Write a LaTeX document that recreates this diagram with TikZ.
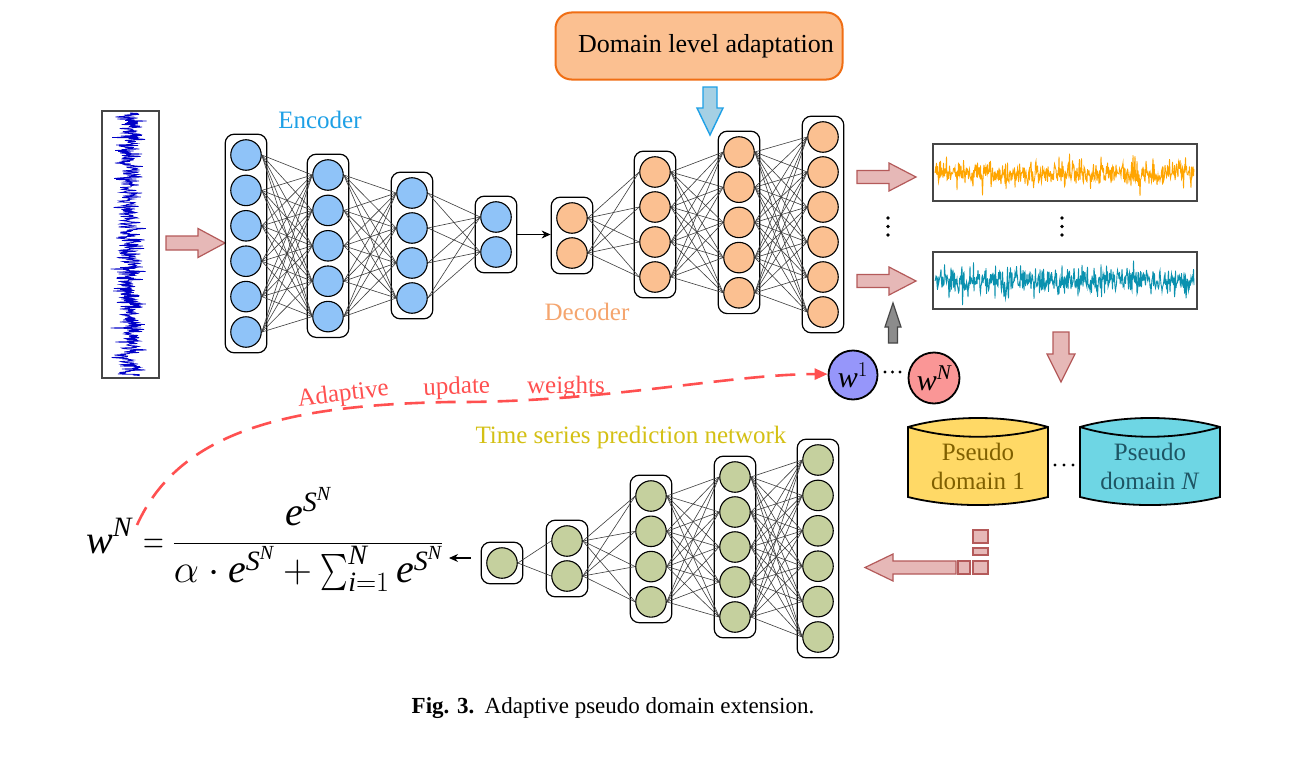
\RequirePackage{fix-cm}
\documentclass[tikz,border=0pt]{standalone}
\usepackage{exscale}
\usepackage{amstext}
\usepackage{fontspec}
\setmainfont{Liberation Serif}
\usetikzlibrary{arrows.meta,fit,calc}
\newcommand{\ti}[1]{\textit{#1}}
\newcommand{\bigsumop}{\mathop{\vcenter{\hbox{\scalebox{1.05}[1.45]{$\textstyle\sum$}}}}\nolimits}
\newcommand{\narroweq}{\mathrel{\scalebox{0.72}[1]{$=$}}}
\definecolor{nblue}{RGB}{143,195,248}
\definecolor{norange}{RGB}{251,192,145}
\definecolor{ngreen}{RGB}{197,208,158}
\definecolor{linkgray}{RGB}{60,60,60}
\definecolor{pinkfill}{RGB}{230,184,183}
\definecolor{pinkline}{RGB}{180,90,90}
\definecolor{peach}{RGB}{251,192,145}
\definecolor{orangeline}{RGB}{240,110,20}
\definecolor{encblue}{RGB}{30,160,230}
\definecolor{decorange}{RGB}{245,165,110}
\definecolor{tsyellow}{RGB}{212,192,20}
\definecolor{adred}{RGB}{255,80,80}
\definecolor{wblue}{RGB}{150,150,250}
\definecolor{wred}{RGB}{250,150,150}
\definecolor{pdfillA}{RGB}{255,217,102}
\definecolor{pdtextA}{RGB}{128,96,0}
\definecolor{pdfillN}{RGB}{110,214,228}
\definecolor{pdtextN}{RGB}{30,85,100}
\definecolor{sigblue}{RGB}{0,0,200}
\definecolor{sigorange}{RGB}{255,165,0}
\definecolor{sigteal}{RGB}{10,145,175}
\definecolor{boxgray}{RGB}{70,70,70}
\definecolor{lblue}{RGB}{165,208,228}
\definecolor{grayarrow}{RGB}{140,140,140}
\begin{document}
\begin{tikzpicture}[x=1pt,y=-1pt,
  neuron/.style={circle,draw=black,line width=1.1pt,minimum size=30.5pt,inner sep=0pt},
  enc/.style={neuron,fill=nblue},
  dec/.style={neuron,fill=norange},
  prd/.style={neuron,fill=ngreen},
  layerbox/.style={draw=black,line width=1.2pt,rounded corners=9pt,inner sep=5pt},
  link/.style={draw=linkgray,line width=0.6pt},
  blockarrow/.style={fill=pinkfill,draw=pinkline,line width=1.2pt},
  sigbox/.style={draw=boxgray,line width=1.5pt,inner sep=0pt},
  blk/.style={draw=black,line width=1.1pt,-{Stealth[length=9pt,width=8pt]}},
  wcirc/.style={circle,draw=black,line width=1.8pt,inner sep=0pt,font=\fontsize{30}{34}\selectfont},
  lbl/.style={font=\fontsize{25}{30}\selectfont},
  cyl/.style={draw=black,line width=1.8pt}
]
\useasboundingbox (0,0) rectangle (1298,768);
\fill[white] (0,0) rectangle (1298,768);
\pgfmathsetseed{7}

% ---------- input signal ----------
\node[sigbox,minimum width=57pt,minimum height=267pt] (insig) at (130.5,244.5) {};
\draw[sigblue,line width=0.8pt] (130,113) \foreach \i in {1,...,526}{ -- ({130+7*(rand+rand+rand)+10*rand*rand*rand},{113+\i*0.5}) };

\filldraw[blockarrow] (166,236) -- (198,236) -- (198,228.5) -- (225,243) -- (198,257.5) -- (198,250) -- (166,250) -- cycle;

% ---------- encoder ----------
\foreach \j in {1,...,6} \node[enc] (e1-\j) at (246,{155+35.4*(\j-1)}) {};
\foreach \j in {1,...,5} \node[enc] (e2-\j) at (328,{175+35.4*(\j-1)}) {};
\foreach \j in {1,...,4} \node[enc] (e3-\j) at (412,{193+35*(\j-1)}) {};
\foreach \j in {1,...,2} \node[enc] (e4-\j) at (496,{217+35*(\j-1)}) {};
\node[layerbox,fit=(e1-1)(e1-6)] (eb1) {};
\node[layerbox,fit=(e2-1)(e2-5)] (eb2) {};
\node[layerbox,fit=(e3-1)(e3-4)] (eb3) {};
\node[layerbox,fit=(e4-1)(e4-2)] (eb4) {};
\foreach \a in {1,...,6} \foreach \b in {1,...,5} \draw[link] (e1-\a.east) -- (e2-\b.west);
\foreach \a in {1,...,5} \foreach \b in {1,...,4} \draw[link] (e2-\a.east) -- (e3-\b.west);
\foreach \a in {1,...,4} \foreach \b in {1,...,2} \draw[link] (e3-\a.east) -- (e4-\b.west);
\node[lbl,text=encblue] (enclbl) at (320,120) {Encoder};

% ---------- decoder ----------
\foreach \j in {1,...,2} \node[dec] (d1-\j) at (572,{218+35*(\j-1)}) {};
\foreach \j in {1,...,4} \node[dec] (d2-\j) at (655,{172+35*(\j-1)}) {};
\foreach \j in {1,...,5} \node[dec] (d3-\j) at (739,{152+35.2*(\j-1)}) {};
\foreach \j in {1,...,6} \node[dec] (d4-\j) at (823,{137+35*(\j-1)}) {};
\node[layerbox,fit=(d1-1)(d1-2)] (db1) {};
\node[layerbox,fit=(d2-1)(d2-4)] (db2) {};
\node[layerbox,fit=(d3-1)(d3-5)] (db3) {};
\node[layerbox,fit=(d4-1)(d4-6)] (db4) {};
\foreach \a in {1,...,2} \foreach \b in {1,...,4} \draw[link] (d1-\a.east) -- (d2-\b.west);
\foreach \a in {1,...,4} \foreach \b in {1,...,5} \draw[link] (d2-\a.east) -- (d3-\b.west);
\foreach \a in {1,...,5} \foreach \b in {1,...,6} \draw[link] (d3-\a.east) -- (d4-\b.west);
\node[lbl,text=decorange] (declbl) at (587,312) {Decoder};
\draw[blk] (eb4.east) -- (eb4.east -| db1.west);

% ---------- domain level adaptation ----------
\node[draw=orangeline,fill=peach,line width=2pt,rounded corners=16pt,minimum width=287pt,minimum height=67pt,font=\fontsize{26}{30}\selectfont] (dla) at (699,46) {\hspace*{14pt}Domain level adaptation};
\filldraw[fill=lblue,draw=encblue,line width=1.4pt] (703,87) -- (717,87) -- (717,108) -- (723,108) -- (710,135) -- (697,108) -- (703,108) -- cycle;

% ---------- generated signals ----------
\filldraw[blockarrow] (857,170.5) -- (889,170.5) -- (889,163) -- (916,177) -- (889,191) -- (889,183.5) -- (857,183.5) -- cycle;
\filldraw[blockarrow] (857,274.5) -- (889,274.5) -- (889,267) -- (916,281) -- (889,295) -- (889,287.5) -- (857,287.5) -- cycle;
\node[sigbox,minimum width=264pt,minimum height=57pt] (sig1) at (1065,172.5) {};
\node[sigbox,minimum width=264pt,minimum height=57pt] (sig2) at (1065,280.5) {};
\draw[sigorange,line width=0.9pt] (935,173) \foreach \i in {1,...,518}{ -- ({935+\i*0.5},{173+5*(rand+rand+rand)+20*rand*rand*rand}) };
\draw[sigteal,line width=0.9pt] (935,281) \foreach \i in {1,...,518}{ -- ({935+\i*0.5},{281+6.5*(rand+rand+rand)+16*rand*rand*rand}) };
\foreach \yy in {218,226.5,235} {\fill (888,\yy) circle (1.8pt); \fill (1062,\yy) circle (1.8pt);}

% ---------- weights ----------
\filldraw[fill=grayarrow,draw=boxgray,line width=1.2pt] (888.5,343) -- (897.5,343) -- (897.5,327) -- (901,327) -- (893,303) -- (885,327) -- (888.5,327) -- cycle;
\node[wcirc,fill=wblue,minimum size=49pt] (w1) at (853,375) {$\ti{w}^{1}$};
\node[wcirc,fill=wred,minimum size=51pt] (wN) at (934,378) {$\ti{w}^{\ti{N}}$};
\foreach \xx in {885,892.5,900} \fill (\xx,372) circle (1.6pt);

\filldraw[blockarrow] (1053,332) -- (1069,332) -- (1069,354) -- (1075,354) -- (1061,382) -- (1047,354) -- (1053,354) -- cycle;

% ---------- pseudo domains ----------
\filldraw[cyl,fill=pdfillA] (908,427) .. controls (950,415) and (1006,415) .. (1048,427) -- (1048,497) .. controls (1006,507.7) and (950,507.7) .. (908,497) -- cycle;
\draw[cyl] (908,427) .. controls (950,440) and (1006,440) .. (1048,427);
\filldraw[cyl,fill=pdfillN] (1080,427) .. controls (1122,415) and (1178,415) .. (1220,427) -- (1220,497) .. controls (1178,507.7) and (1122,507.7) .. (1080,497) -- cycle;
\draw[cyl] (1080,427) .. controls (1122,440) and (1178,440) .. (1220,427);
\node[lbl,text=pdtextA,align=center] (pd1) at (978,466) {Pseudo\\[-1pt]domain 1};
\node[lbl,text=pdtextN,align=center] (pdN) at (1150,466) {Pseudo\\[-1pt]domain \textit{N}};
\foreach \xx in {1055,1064,1073} \fill (\xx,465) circle (1.7pt);

\filldraw[blockarrow] (956,561) -- (893,561) -- (893,554) -- (865,567.5) -- (893,581) -- (893,574) -- (956,574) -- cycle;
\filldraw[blockarrow] (958,561) rectangle (970,574);
\filldraw[blockarrow] (973,561) rectangle (988,574);
\filldraw[blockarrow] (973,548) rectangle (988,555);
\filldraw[blockarrow] (973,530) rectangle (988,543);

% ---------- prediction network ----------
\node[prd] (p1-1) at (502,563) {};
\foreach \j in {1,...,2} \node[prd] (p2-\j) at (567,{541+35*(\j-1)}) {};
\foreach \j in {1,...,4} \node[prd] (p3-\j) at (651,{496+35.3*(\j-1)}) {};
\foreach \j in {1,...,5} \node[prd] (p4-\j) at (735,{477+35*(\j-1)}) {};
\foreach \j in {1,...,6} \node[prd] (p5-\j) at (818,{460+35.4*(\j-1)}) {};
\node[layerbox,fit=(p1-1)] (pb1) {};
\node[layerbox,fit=(p2-1)(p2-2)] (pb2) {};
\node[layerbox,fit=(p3-1)(p3-4)] (pb3) {};
\node[layerbox,fit=(p4-1)(p4-5)] (pb4) {};
\node[layerbox,fit=(p5-1)(p5-6)] (pb5) {};
\foreach \b in {1,...,2} \draw[link] (p1-1.east) -- (p2-\b.west);
\foreach \a in {1,...,2} \foreach \b in {1,...,4} \draw[link] (p2-\a.east) -- (p3-\b.west);
\foreach \a in {1,...,4} \foreach \b in {1,...,5} \draw[link] (p3-\a.east) -- (p4-\b.west);
\foreach \a in {1,...,5} \foreach \b in {1,...,6} \draw[link] (p4-\a.east) -- (p5-\b.west);
\node[lbl,text=tsyellow] (tslbl) at (631,437) {Time series prediction network};

% ---------- formula ----------
\node[anchor=base west,inner sep=0pt] (formula) at (86,553) {\fontsize{40}{48}\selectfont$\displaystyle \ti{w}^{\ti{N}}\narroweq\mkern-1mu\frac{\ti{e}^{\ti{S}^{\ti{N}}}}{\alpha\cdot \ti{e}^{\ti{S}^{\ti{N}}}+\bigsumop_{\ti{i}=1}^{\ti{N}}\ti{e}^{\ti{S}^{\ti{N}}}}$};
\coordinate (fend) at (449,558);
\draw[blk] ($(pb1.west)+(-10,-5)$) -- (fend);

% ---------- adaptive update ----------
\coordinate (cs) at (137,525);
\draw[adred,line width=2.6pt,dash pattern=on 20pt off 11pt,-{Triangle[length=13pt,width=11pt]}] (cs) .. controls (180,430) and (290,405) .. (450,402) .. controls (600,403) and (730,374) .. (w1.178);
\node[lbl,text=adred,anchor=base,rotate=7] (ad1) at (344,401) {Adaptive};
\node[lbl,text=adred,anchor=base,rotate=2] (ad2) at (457,394) {update};
\node[lbl,text=adred,anchor=base] (ad3) at (566,393) {weights};

% ---------- caption ----------
\node[font=\fontsize{23}{28}\selectfont] (cap) at (613,708) {\textbf{Fig. 3.}\hspace{0.45em}Adaptive pseudo domain extension.};
\end{tikzpicture}
\end{document}
